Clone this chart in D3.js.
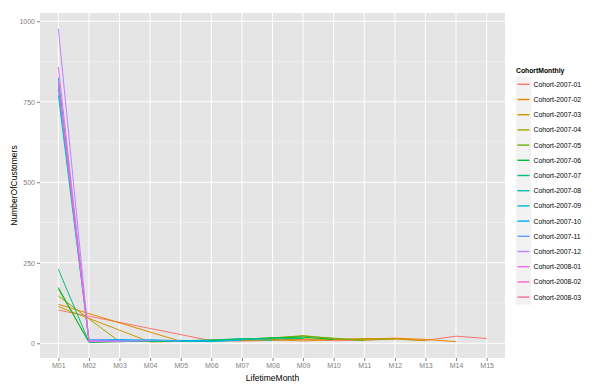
<!DOCTYPE html>
<html><head><meta charset="utf-8">
<script src="https://cdn.jsdelivr.net/npm/d3@7"></script>
<style>body{margin:0;background:#fff}svg{display:block;font-family:"Liberation Sans",Arial,sans-serif}</style>
</head><body><svg id="c" width="605" height="388"></svg>
<script>
const months = ["M01","M02","M03","M04","M05","M06","M07","M08","M09","M10","M11","M12","M13","M14","M15"];
const cohorts = ["Cohort-2007-01","Cohort-2007-02","Cohort-2007-03","Cohort-2007-04","Cohort-2007-05","Cohort-2007-06","Cohort-2007-07","Cohort-2007-08","Cohort-2007-09","Cohort-2007-10","Cohort-2007-11","Cohort-2007-12","Cohort-2008-01","Cohort-2008-02","Cohort-2008-03"];
const colors = ["#F8766D","#E58700","#C99800","#A3A500","#6BB100","#00BA38","#00BF7D","#00C0AF","#00BCD8","#00B0F6","#619CFF","#B983FF","#E76BF3","#FD61D1","#FF67A4"];
const c200701 = [103,null,null,null,null,8,7,9,12,8,10,14,9,22,15];
const c200702 = [121,null,null,null,6,10,8,12,7,12,13,16,12,5];
const c200703 = [114,null,null,4,6,8,11,9,14,11,15,13,8];
const c200704 = [147,null,5,7,8,10,12,16,24,14,10,13];
const c200705 = [168,4,6,9,7,8,12,17,22,16,8];
const c200706 = [173,3,5,8,6,9,13,17,19,12];
const c200707 = [230,4,7,6,8,10,15,14,15];
const c200708 = [770,8,10,9,7,5,12,10];
const c200709 = [790,9,7,11,8,6,9];
const c200710 = [825,10,12,8,9,7];
const c200711 = [800,11,9,10,6];
const c200712 = [977,9,6,8];
const c200801 = [858,5,7];
const c200802 = [812,6];
const c200803 = [780];
const values = [c200701,c200702,c200703,c200704,c200705,c200706,c200707,c200708,c200709,c200710,c200711,c200712,c200801,c200802,c200803];
const yTicks = [0,250,500,750,1000];
const yMinor = [125,375,625,875];

const svg = d3.select("#c");
const P = {l:40, r:505, t:13, b:358};

const series = cohorts.map((c,i)=>({name:c,color:colors[i],
  pts: values[i].map((v,j)=>({m:months[j],v:v})).filter(p=>p.v!==null)}));
const all = series.flatMap(s=>s.pts.map(p=>p.v));
const lo = d3.min(all), hi = d3.max(all), rg = hi-lo;

const x = d3.scalePoint().domain(months).range([P.l,P.r]).padding(0.6);
const y = d3.scaleLinear().domain([lo-0.05*rg, hi+0.05*rg]).range([P.b,P.t]);

svg.append("rect").attr("x",P.l).attr("y",P.t).attr("width",P.r-P.l).attr("height",P.b-P.t).attr("fill","#E5E5E5");
svg.append("g").selectAll("line").data(yMinor).join("line")
  .attr("x1",P.l).attr("x2",P.r).attr("y1",d=>y(d)).attr("y2",d=>y(d)).attr("stroke","#F2F2F2").attr("stroke-width",0.5);
svg.append("g").selectAll("line").data(yTicks).join("line")
  .attr("x1",P.l).attr("x2",P.r).attr("y1",d=>y(d)).attr("y2",d=>y(d)).attr("stroke","#fff").attr("stroke-width",1);
svg.append("g").selectAll("line").data(months).join("line")
  .attr("y1",P.t).attr("y2",P.b).attr("x1",d=>x(d)).attr("x2",d=>x(d)).attr("stroke","#fff").attr("stroke-width",1);

const line = d3.line().x(d=>x(d.m)).y(d=>y(d.v));
svg.append("g").selectAll("path").data(series).join("path")
  .attr("d",d=>line(d.pts)).attr("fill","none").attr("stroke",d=>d.color).attr("stroke-width",1);

const ya = d3.axisLeft(y).tickValues(yTicks).tickFormat(d3.format("d")).tickSize(3).tickPadding(2);
const gy = svg.append("g").attr("transform",`translate(${P.l},0)`).call(ya);
const xa = d3.axisBottom(x).tickSize(3).tickPadding(2.5);
const gx = svg.append("g").attr("transform",`translate(0,${P.b})`).call(xa);
[gy,gx].forEach(g=>{g.select(".domain").remove();
  g.selectAll(".tick line").attr("stroke","#7F7F7F");
  g.selectAll(".tick text").attr("fill","#7F7F7F").attr("font-size",7).attr("font-family","Liberation Sans, Arial, sans-serif");});

svg.append("text").attr("x",(P.l+P.r)/2).attr("y",380.5).attr("text-anchor","middle").attr("font-size",8.5).text("LifetimeMonth");
svg.append("text").attr("transform",`translate(17,${(P.t+P.b)/2}) rotate(-90)`).attr("text-anchor","middle").attr("font-size",8.5).text("NumberOfCustomers");

const lg = svg.append("g");
lg.append("text").attr("x",516).attr("y",73).attr("font-size",6.8).attr("font-weight","bold").text("CohortMonthly");
const ks = 15.2;
const items = lg.selectAll("g.k").data(series).join("g").attr("class","k")
  .attr("transform",(d,i)=>`translate(516,${84.3+i*ks})`);
items.append("rect").attr("x",0).attr("y",-ks/2).attr("width",15).attr("height",ks).attr("fill","#F2F2F2");
items.append("rect").attr("x",1.5).attr("y",-0.7).attr("width",12).attr("height",1.4).attr("fill",d=>d.color);
items.append("text").attr("x",17.5).attr("y",2.4).attr("font-size",6.8).attr("fill","#000").text(d=>d.name);
</script></body></html>
